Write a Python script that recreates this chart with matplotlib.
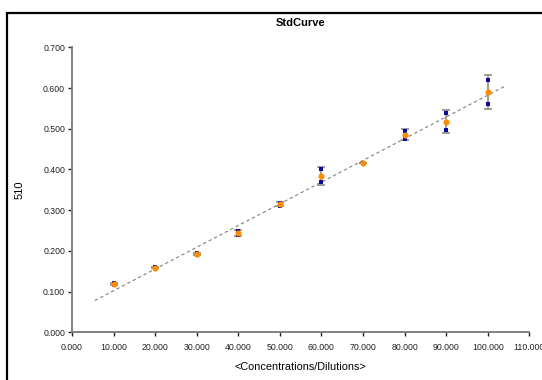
import numpy as np
import matplotlib
matplotlib.use("Agg")
import matplotlib.pyplot as plt
from matplotlib.patches import Rectangle
from matplotlib.ticker import FormatStrFormatter, MultipleLocator

plt.rcParams['font.family'] = ['Liberation Sans', 'DejaVu Sans']

# Standard curve: concentration levels with two replicate readings each
conc = [10, 20, 30, 40, 50, 60, 70, 80, 90, 100]
rep1 = [0.121, 0.160, 0.194, 0.248, 0.318, 0.400, 0.417, 0.495, 0.538, 0.620]
rep2 = [0.117, 0.158, 0.191, 0.238, 0.311, 0.369, 0.417, 0.476, 0.497, 0.560]

title = "StdCurve"
xlabel = "<Concentrations/Dilutions>"
ylabel = "510"

x = np.array(conc, dtype=float)
reps = np.vstack([rep1, rep2])
mean = reps.mean(axis=0)
sd = reps.std(axis=0, ddof=1)

# linear fit through the means
slope, intercept = np.polyfit(x, mean, 1)
xfit = np.array([x.min() - 4.5, x.max() + 4.0])
yfit = slope * xfit + intercept

fig = plt.figure(figsize=(5.42, 3.80), dpi=100)
ax = fig.add_axes([0.1328, 0.1255, 0.8438, 0.75])

ax.plot(xfit, yfit, linestyle=(0, (3, 2.5)), color='#808080', linewidth=0.8, zorder=2)

ax.errorbar(x, mean, yerr=sd, fmt='none', ecolor='#8c8c8c', elinewidth=1.2,
            capsize=3, capthick=1.2, zorder=3)
for r in reps:
    ax.plot(x, r, linestyle='none', marker='s', markersize=3.2,
            color='#0a0a9a', markeredgewidth=0, zorder=4)
ax.plot(x, mean, linestyle='none', marker='o', markersize=4.4,
        color='#ff8c00', markeredgewidth=0, zorder=5)

ax.set_xlim(0, 110)
ax.set_ylim(0, 0.7)
ax.xaxis.set_major_locator(MultipleLocator(10))
ax.yaxis.set_major_locator(MultipleLocator(0.1))
ax.xaxis.set_major_formatter(FormatStrFormatter('%.3f'))
ax.yaxis.set_major_formatter(FormatStrFormatter('%.3f'))

for side in ('top', 'right'):
    ax.spines[side].set_visible(False)
for side in ('left', 'bottom'):
    ax.spines[side].set_color('#808080')
    ax.spines[side].set_linewidth(1.4)

ax.tick_params(axis='both', labelsize=6.3, colors='#222222', length=3,
               width=1.0, direction='out')
ax.tick_params(axis='x', pad=5)
ax.tick_params(axis='y', pad=2)

ax.set_title(title, fontsize=8, fontweight='bold', pad=15)
ax.set_xlabel(xlabel, fontsize=7.8, labelpad=7)
ax.set_ylabel(ylabel, fontsize=8)
ax.yaxis.set_label_coords(-0.104, 0.5)

# outer chart frame
fig.patches.append(Rectangle((6.5 / 542, -0.05), 1.2, 1 - 12.5 / 380 + 0.05,
                             transform=fig.transFigure, fill=False,
                             edgecolor='black', linewidth=1.6, clip_on=False))

fig.savefig("out.png", dpi=100)
